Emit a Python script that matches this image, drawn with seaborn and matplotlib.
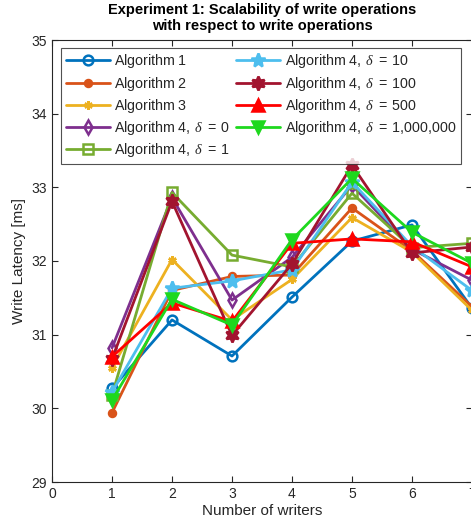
import matplotlib
matplotlib.use("Agg")
import matplotlib.pyplot as plt
import seaborn as sns

writers = [1, 2, 3, 4, 5, 6, 7]

alg1 = [30.27, 31.20, 30.71, 31.51, 32.27, 32.49, 31.36]
alg2 = [29.94, 31.60, 31.79, 31.81, 32.72, 32.14, 31.38]
alg3 = [30.55, 32.02, 31.20, 31.75, 32.59, 32.12, 31.33]
alg4_d0 = [30.82, 32.86, 31.47, 32.05, 33.03, 32.16, 31.74]
alg4_d1 = [30.18, 32.93, 32.08, 31.92, 32.92, 32.18, 32.24]
alg4_d10 = [30.22, 31.63, 31.73, 31.88, 33.07, 32.20, 31.60]
alg4_d100 = [30.67, 32.81, 30.99, 31.96, 33.30, 32.11, 32.19]
alg4_d500 = [30.70, 31.43, 31.18, 32.24, 32.30, 32.26, 31.92]
alg4_d1m = [30.11, 31.48, 31.13, 32.29, 33.12, 32.39, 31.97]

# all labels in mathtext so that the legend rows line up evenly
labels = [
    r"$\mathrm{Algorithm\ 1}$",
    r"$\mathrm{Algorithm\ 2}$",
    r"$\mathrm{Algorithm\ 3}$",
    r"$\mathrm{Algorithm\ 4,\ }\delta\ {=}\ \mathrm{0}$",
    r"$\mathrm{Algorithm\ 4,\ }\delta\ {=}\ \mathrm{1}$",
    r"$\mathrm{Algorithm\ 4,\ }\delta\ {=}\ \mathrm{10}$",
    r"$\mathrm{Algorithm\ 4,\ }\delta\ {=}\ \mathrm{100}$",
    r"$\mathrm{Algorithm\ 4,\ }\delta\ {=}\ \mathrm{500}$",
    r"$\mathrm{Algorithm\ 4,\ }\delta\ {=}\ \mathrm{1{,}000{,}000}$",
]
series = [alg1, alg2, alg3, alg4_d0, alg4_d1, alg4_d10, alg4_d100, alg4_d500, alg4_d1m]

# MATLAB-like colours and markers
colors = ["#0072BD", "#D95319", "#EDB120", "#7E2F8E", "#77AC30",
          "#4DBEEE", "#A2142F", "#FF0000", "#1ED81E"]
markers = ["o", "o", (6, 2, 0), "d", "s", "*", (6, 1, 0), "^", "v"]
sizes = [7, 5, 6, 7, 7, 10, 10, 8, 8]
open_face = [True, False, False, True, True, False, False, False, False]

sns.set_theme(style="white")
plt.rcParams["font.family"] = ["Liberation Sans", "DejaVu Sans"]
plt.rcParams["mathtext.fontset"] = "custom"
plt.rcParams["mathtext.rm"] = "Liberation Sans"
plt.rcParams["mathtext.it"] = "Liberation Serif:italic"
plt.rcParams["mathtext.bf"] = "Liberation Sans:bold"

fig = plt.figure(figsize=(4.71, 5.24), dpi=100)
ax = fig.add_axes([52 / 471, 1 - 482 / 524, 420 / 471, 442 / 524])

for vals, lab, col, mk, ms, op in zip(series, labels, colors, markers, sizes, open_face):
    sns.lineplot(
        x=writers, y=vals, ax=ax, color=col, label=lab,
        marker=mk, markersize=ms, linewidth=2,
        markerfacecolor="none" if op else col,
        markeredgecolor=col, markeredgewidth=1.8,
    )

ax.set_xlim(0, 7)
ax.set_ylim(29, 35)
ax.set_xticks(range(0, 8))
ax.set_yticks(range(29, 36))
ax.tick_params(direction="in", length=4, width=0.8, labelsize=10,
               colors="#262626", top=True, right=True, bottom=True, left=True)
for s in ax.spines.values():
    s.set_color("#262626")
    s.set_linewidth(0.8)

ax.set_xlabel("Number of writers", fontsize=11, color="#262626", labelpad=2)
ax.set_ylabel("Write Latency [ms]", fontsize=11, color="#262626", labelpad=4)
ax.set_title("Experiment 1: Scalability of write operations\nwith respect to write operations",
             fontsize=10.5, fontweight="bold", color="black", pad=7)

leg = ax.legend(loc="upper left", bbox_to_anchor=(0.022, 0.982), ncol=2,
                fontsize=10.3, frameon=True, fancybox=False, edgecolor="#262626",
                handlelength=3.1, handletextpad=0.3, columnspacing=0.4,
                labelspacing=0.3, borderpad=0.3, borderaxespad=0)
leg.get_frame().set_linewidth(0.8)

fig.savefig("out.png", dpi=100)
